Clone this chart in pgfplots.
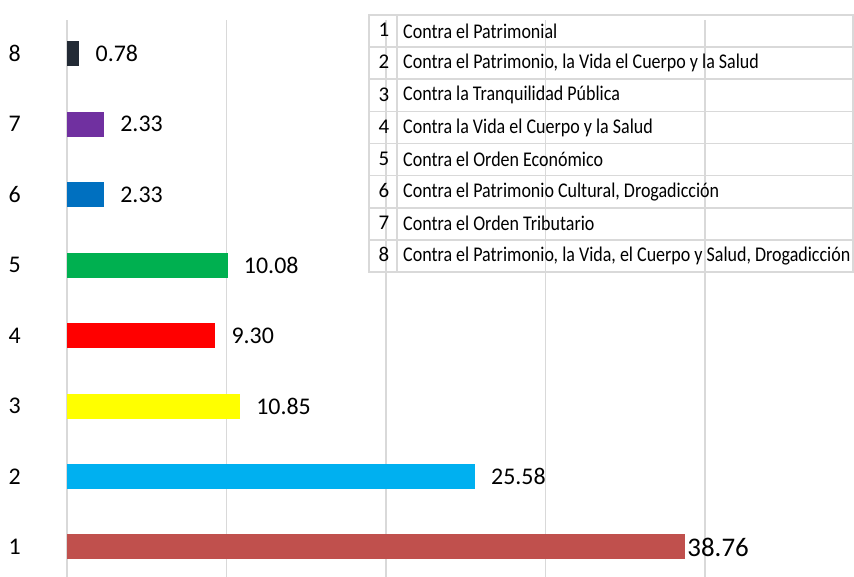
\documentclass[border=0pt]{standalone}
\usepackage{fontspec}
\setmainfont{Carlito}
\newfontfamily\legfont[FakeStretch=0.86]{Carlito}
\usepackage{pgfplots}
\pgfplotsset{compat=1.18}
\definecolor{c1}{HTML}{C0504D}
\definecolor{c2}{HTML}{00B0F0}
\definecolor{c3}{HTML}{FFFF00}
\definecolor{c4}{HTML}{FF0000}
\definecolor{c5}{HTML}{00B050}
\definecolor{c6}{HTML}{0070C0}
\definecolor{c7}{HTML}{7030A0}
\definecolor{c8}{HTML}{222A35}
\definecolor{gridc}{HTML}{D9D9D9}
\begin{document}
\begin{tikzpicture}[x=1bp,y=1bp]
\begin{axis}[
  at={(67bp,0bp)}, anchor=south west,
  scale only axis, width=787bp, height=557bp,
  xmin=0, xmax=49.34, ymin=0.574, ymax=8.48,
  axis line style={draw=none},
  tick style={draw=none},
  xmajorgrids,
  major grid style={draw=gridc, line width=1.6bp},
  xtick={0,10,20,30,40}, xticklabels={},
  ytick={1,...,8},
  /pgf/number format/assume math mode=true,
  yticklabel style={anchor=center, xshift=-48bp, font=\fontsize{24}{28}\selectfont},
  xbar, bar width=25bp, bar shift=0pt,
  point meta=explicit symbolic,
  nodes near coords,
  every node near coord/.append style={anchor=west, inner sep=0pt, xshift=16bp, font=\fontsize{24}{28}\selectfont, text=black},
  clip=false,
]
\addplot[fill=c1, draw=none, every node near coord/.append style={xshift=-14bp, font=\fontsize{27}{30}\selectfont}] coordinates {(38.76,1) [38.76]};
\addplot[fill=c2, draw=none] coordinates {(25.58,2) [25.58]};
\addplot[fill=c3, draw=none] coordinates {(10.85,3) [10.85]};
\addplot[fill=c4, draw=none] coordinates {(9.30,4) [9.30]};
\addplot[fill=c5, draw=none] coordinates {(10.08,5) [10.08]};
\addplot[fill=c6, draw=none] coordinates {(2.33,6) [2.33]};
\addplot[fill=c7, draw=none] coordinates {(2.33,7) [2.33]};
\addplot[fill=c8, draw=none] coordinates {(0.78,8) [0.78]};
\end{axis}
% legend table
\draw[gridc, line width=1.6bp] (369,305) rectangle (853,562);
\foreach \k in {1,...,7} {
  \draw[gridc, line width=1.6bp] (369,{562-32.125*\k}) -- (853,{562-32.125*\k});
}
\draw[gridc, line width=1.6bp] (397,305) -- (397,562);
\foreach \n/\t [count=\k] in {
  1/Contra el Patrimonial,
  2/{Contra el Patrimonio, la Vida el Cuerpo y la Salud},
  3/Contra la Tranquilidad Pública,
  4/Contra la Vida el Cuerpo y la Salud,
  5/Contra el Orden Económico,
  6/{Contra el Patrimonio Cultural, Drogadicción},
  7/Contra el Orden Tributario,
  8/{Contra el Patrimonio, la Vida, el Cuerpo y Salud, Drogadicción}} {
  \node[anchor=center, inner sep=0pt, font=\fontsize{21}{24}\selectfont] at (384,{562-32.125*(\k-0.5)+1}) {\n};
  \node[anchor=west, inner sep=0pt, font=\legfont\fontsize{21}{24}\selectfont] at (403,{562-32.125*(\k-0.5)}) {\t};
}
\pgfresetboundingbox
\path[use as bounding box] (0,0) rectangle (854,577);
\end{tikzpicture}
\end{document}
